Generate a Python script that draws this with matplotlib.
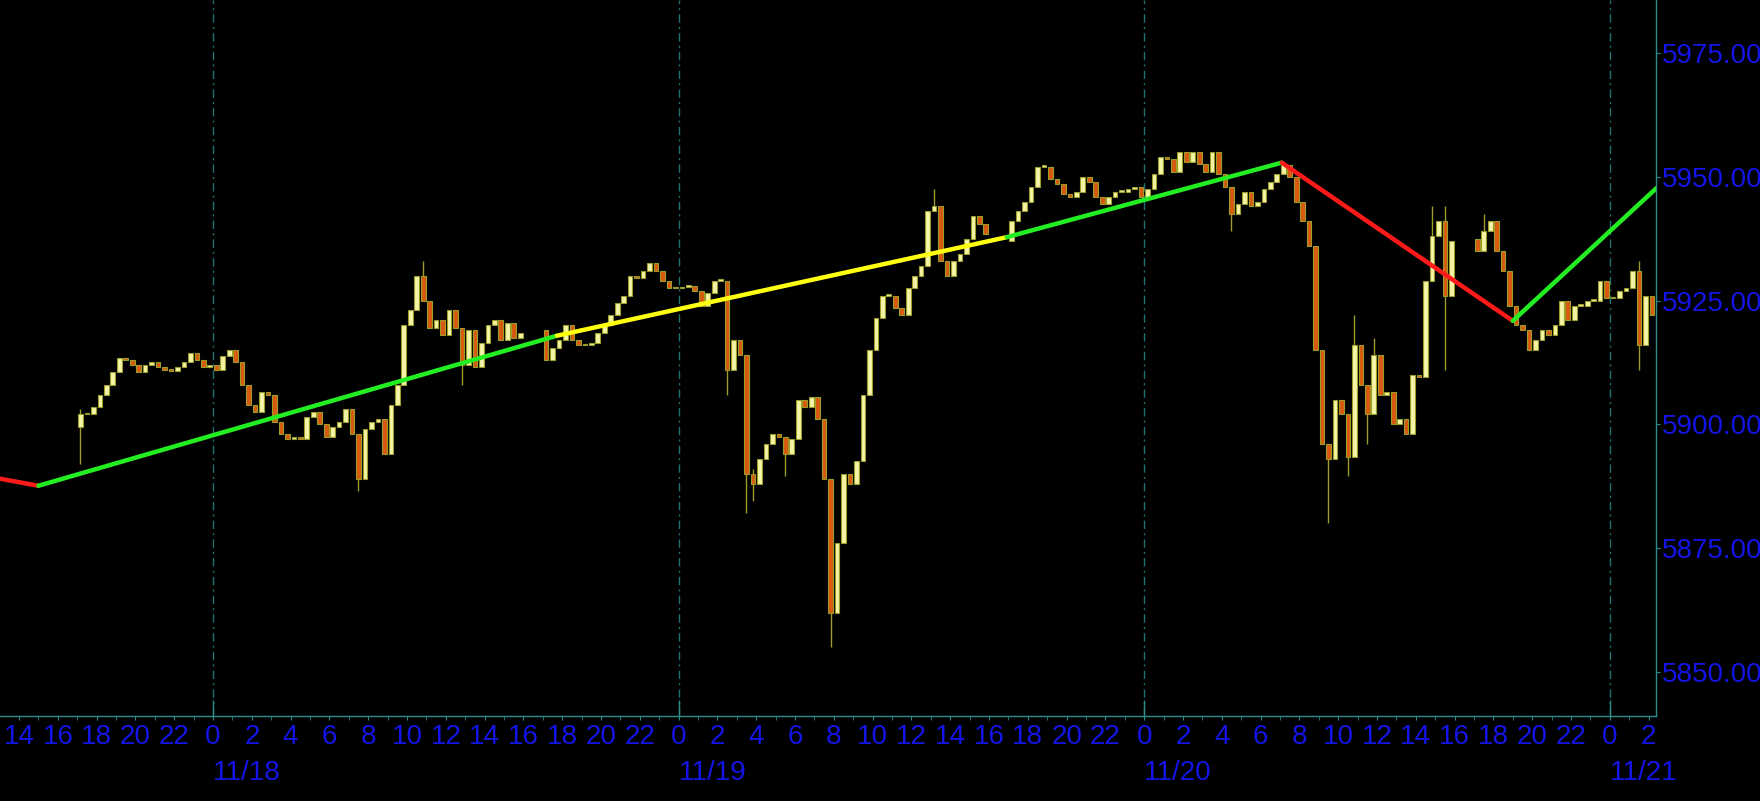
import numpy as np
import pandas as pd
import matplotlib
matplotlib.use('Agg')
import matplotlib.pyplot as plt
from matplotlib.transforms import blended_transform_factory

plt.rcParams['font.family'] = ['Liberation Sans', 'DejaVu Sans']

# 20 minute bars, x = hours counted from 11/18 00:00
# four sessions, split by the daily 16:00-17:00 break
session_start = [-7.0, 17.0, 41.0, 65.0]
session_open = [5899.5, 5919.0, 5937.0, 5937.5]

closes_s1 = [5902, 5902, 5903.5, 5906, 5908, 5910.5, 5913.5, 5913, 5912, 5910.5,
             5912, 5912.5, 5911.5, 5911, 5910.8, 5911.5, 5912.5, 5914.5, 5913, 5911.5,
             5912, 5911, 5913.8, 5915, 5912.5, 5908, 5904, 5902.5, 5906.5, 5906,
             5900.5, 5898, 5897, 5897.5, 5897, 5901.5, 5902.5, 5900, 5897.5, 5899.5,
             5900.5, 5903, 5898, 5889, 5899, 5900.5, 5901, 5894, 5904, 5908,
             5920, 5923, 5930, 5925, 5919.5, 5921, 5918, 5923, 5919.5, 5912,
             5919, 5911.5, 5916.5, 5920, 5921, 5917, 5920.5, 5917.5, 5918.5]
closes_s2 = [5913, 5915.5, 5917, 5920, 5917, 5916, 5916, 5916.5, 5918.5, 5920,
             5922, 5924.5, 5926, 5930, 5929.5, 5931, 5932.5, 5931, 5929, 5927.5,
             5927.5, 5927.8, 5928, 5927, 5924, 5926.5, 5929, 5929, 5911, 5917,
             5914, 5890, 5888, 5893, 5896, 5898, 5897.5, 5894, 5897, 5905,
             5903.5, 5905.5, 5901, 5889, 5862, 5876, 5890, 5888, 5892.5, 5906,
             5915, 5921.5, 5926, 5926, 5923.5, 5922, 5927.5, 5930, 5932, 5943,
             5944, 5933, 5930, 5933, 5934.5, 5937.5, 5942, 5940.5, 5938.5]
closes_s3 = [5941, 5943, 5945, 5948, 5952, 5952, 5949.5, 5948.5, 5946.5, 5946,
             5947, 5950, 5949, 5946, 5944.5, 5946, 5947, 5947, 5947.5, 5948,
             5946, 5947.5, 5950.5, 5954, 5953.5, 5951, 5955, 5953, 5955, 5952.5,
             5951, 5955, 5950.5, 5948, 5942.5, 5944.5, 5947, 5944, 5945, 5947.5,
             5949, 5950.5, 5952.4, 5950, 5945, 5941, 5936, 5915, 5896, 5893,
             5905, 5902, 5893.5, 5916, 5908, 5902, 5914, 5906, 5906.5, 5900,
             5901, 5898, 5910, 5909.5, 5929, 5938, 5941, 5926, 5937]
closes_s4 = [5935, 5939, 5941, 5935, 5931, 5924, 5920, 5919, 5915, 5917,
             5919, 5918, 5920, 5925, 5921, 5924, 5924, 5925, 5925, 5929,
             5925.5, 5925.6, 5927, 5927.5, 5931, 5916, 5926, 5922]

# long wicks: bar start hour, low, high
wick_hour = [-7.0, 7.33, 10.67, 12.67, 26.33, 27.33, 27.67, 29.33, 31.67, 37.0,
             52.33, 57.33, 58.33, 58.67, 59.33, 59.67, 62.67, 63.33, 65.33, 73.33]
wick_low = [5892, 5886.5, 5925, 5908, 5906, 5882, 5884.5, 5889.5, 5855, 5943,
            5939, 5880, 5889.5, 5893.5, 5896, 5902, 5929, 5911, 5939, 5911]
wick_high = [5903, 5898, 5933, 5919.5, 5929, 5914, 5891, 5897.5, 5889, 5947.5,
             5948, 5896, 5902, 5922, 5908, 5917.5, 5944, 5944, 5942.5, 5933]

# zigzag line
zz_hour = [-11.5, -9.0, 17.73, 40.91, 55.09, 67.0, 74.4]
zz_price = [5889.4, 5887.6, 5917.9, 5937.8, 5952.85, 5920.9, 5947.7]
zz_color = ['#ff1a1a', '#22ee22', '#ffff10', '#22ee22', '#ff1a1a', '#22ee22']

price_ticks = [5850, 5875, 5900, 5925, 5950, 5975]
day_hours = [0, 24, 48, 72]
day_labels = ['11/18', '11/19', '11/20', '11/21']

#######################################################################

frames = []
for start, first_open, closes in zip(session_start, session_open,
                                     [closes_s1, closes_s2, closes_s3, closes_s4]):
    closes = np.array(closes, dtype=float)
    opens = np.concatenate([[first_open], closes[:-1]])
    hours = start + np.arange(len(closes)) / 3.0
    frames.append(pd.DataFrame({'hour': hours, 'open': opens, 'close': closes}))
df = pd.concat(frames, ignore_index=True)
df['mid'] = df['hour'] + 1 / 6.0

blue = '#1414e6'
teal = '#2e8b8b'
grid_col = '#1f7272'
olive = '#9c9c28'

fig = plt.figure(figsize=(17.6, 8.01), dpi=100, facecolor='black')
ax = fig.add_axes([0, 1 - 716 / 801, 1656 / 1760, 716 / 801])
ax.set_facecolor('black')

# day separators
for h in day_hours:
    ax.axvline(h, color=grid_col, lw=1, dashes=(6, 3, 1.5, 3), zorder=1)
trans = blended_transform_factory(ax.transData, ax.transAxes)
ax.vlines(day_hours, 0, 0.022, transform=trans, color=teal, lw=1)

# candles
up = df['close'] >= df['open']
body_lo = np.minimum(df['open'], df['close'])
body_h = np.maximum((df['close'] - df['open']).abs(), 0.3)
ax.vlines(wick_hour + np.full(len(wick_hour), 1 / 6.0), wick_low, wick_high,
          color=olive, lw=1, zorder=2)
ax.bar(df['mid'][up], body_h[up], bottom=body_lo[up], width=0.24,
       color='#f4f4a6', edgecolor=olive, linewidth=0.8, zorder=3)
ax.bar(df['mid'][~up], body_h[~up], bottom=body_lo[~up], width=0.24,
       color='#d85a10', edgecolor=olive, linewidth=0.8, zorder=3)

# zigzag
for i in range(len(zz_color)):
    ax.plot(zz_hour[i:i + 2], zz_price[i:i + 2], color=zz_color[i], lw=3.2,
            solid_capstyle='round', zorder=4)

ax.set_xlim(-10.98, 74.38)
ax.set_ylim(5841.1, 5985.7)

# axes styling
for side in ['left', 'top']:
    ax.spines[side].set_visible(False)
for side in ['right', 'bottom']:
    ax.spines[side].set_color(teal)
    ax.spines[side].set_linewidth(1)

ax.yaxis.tick_right()
ax.set_yticks(price_ticks)
ax.set_yticklabels([f'{p:.2f}' for p in price_ticks])
ax.tick_params(axis='y', colors=teal, labelcolor=blue, length=3, pad=1, labelsize=20)

hour_ticks = list(range(-10, 75, 2))
ax.set_xticks(hour_ticks)
ax.set_xticklabels([str(h % 24) for h in hour_ticks])
ax.set_xticks(list(range(-10, 75)), minor=True)
ax.tick_params(axis='x', which='both', colors=teal, labelcolor=blue, length=3,
               pad=3, labelsize=20)

for h, lab in zip(day_hours, day_labels):
    ax.text(h, -0.079, lab, transform=trans, ha='left', va='center',
            color=blue, fontsize=20)

fig.savefig('out.png', dpi=100, facecolor='black')
